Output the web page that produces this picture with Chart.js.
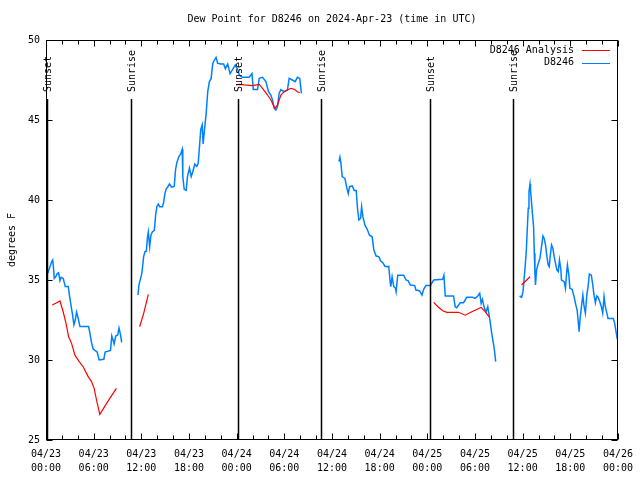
<!DOCTYPE html>
<html>
<head>
<title>Dew Point D8246</title>
<script src="https://cdn.jsdelivr.net/npm/chart.js"></script>
<style>body{margin:0;background:#fff}</style>
</head>
<body>
<canvas id="myChart" width="640" height="480"></canvas>
<script>
// hours since 04/23 00:00 UTC; null = gap in the record
const blueHours = [
  0.16,0.5,0.72,0.84,0.92,1.04,1.22,1.42,1.59,1.76,1.92,2.17,2.42,2.80,3.01,3.22,3.35,3.51,3.68,3.85,4.01,4.27,5.36,5.52,5.73,5.93,6.15,6.44,6.69,7.28,7.44,8.12,8.28,8.44,8.57,8.78,9.03,9.19,9.37,9.53,
  null,
  11.58,11.70,11.88,12.04,12.13,12.29,12.46,12.63,12.76,12.88,13.05,13.21,13.38,13.64,13.80,13.96,14.14,14.30,14.64,14.80,14.97,15.14,15.34,15.55,15.81,16.14,16.31,16.47,16.72,16.97,17.15,17.22,17.40,17.65,17.81,18.06,18.28,18.48,18.73,18.98,19.16,19.32,19.48,19.66,19.78,19.95,20.16,20.36,20.57,20.79,20.99,21.20,21.41,21.61,22.04,22.37,22.58,22.87,23.17,23.50,23.83,24.12,24.34,24.75,25.59,25.93,26.09,26.63,26.84,27.26,27.68,28.01,28.31,28.51,28.73,28.94,29.14,29.35,29.57,29.98,30.39,30.61,31.02,31.36,31.65,31.95,32.08,32.15,
  null,
  36.88,37.0,37.13,37.29,37.63,37.88,38.05,38.22,38.55,38.80,39.05,39.23,39.39,39.60,39.73,39.89,40.14,40.43,40.73,41.06,41.27,41.56,41.90,42.11,42.40,42.65,42.94,43.15,43.32,43.40,43.57,43.78,43.99,44.07,44.28,45.03,45.32,45.57,45.87,46.41,46.57,47.0,47.33,47.54,47.83,48.38,48.80,49.93,50.09,50.26,51.30,51.51,51.71,52.14,52.56,52.97,53.69,54.02,54.35,54.60,54.78,54.94,55.19,55.40,55.61,55.78,55.91,56.11,56.32,56.45,56.61,
  null,
  59.62,59.87,60.05,60.21,60.30,60.46,60.59,60.71,60.80,60.93,61.0,61.13,61.25,61.38,61.47,61.55,61.62,61.75,61.97,62.18,62.38,62.56,62.72,62.88,63.06,63.22,63.35,63.47,63.64,63.81,63.97,64.14,64.31,64.48,64.64,64.82,64.89,65.23,65.39,65.57,65.64,65.82,65.95,66.23,66.48,66.65,66.86,66.98,67.11,67.24,67.40,67.58,67.74,67.90,68.08,68.24,68.40,68.65,68.83,68.99,69.16,69.33,69.50,69.71,69.91,70.08,70.25,70.41,70.59,70.75,71.41,71.59,71.76,71.92
];
const blueTemps = [
  35.36,35.83,36.15,36.25,35.9,35.1,35.2,35.4,35.45,34.96,35.17,35.1,34.6,34.6,33.85,33.2,32.8,32.2,32.5,33.0,32.7,32.1,32.1,31.7,31.1,30.7,30.6,30.5,30.0,30.04,30.5,30.6,31.5,31.25,31.0,31.5,31.56,32.0,31.6,31.1,
  null,
  34.06,34.7,35.04,35.35,35.7,36.46,36.77,36.8,37.6,38.0,37.08,37.8,38.0,38.1,39.06,39.6,39.75,39.58,39.58,39.83,40.4,40.7,40.83,41.0,40.8,40.85,41.9,42.33,42.7,42.9,43.17,41.46,40.67,40.6,41.46,42.0,41.46,41.77,42.25,42.1,42.3,43.33,44.4,44.7,43.5,44.4,45.4,46.77,47.4,47.6,48.54,48.75,48.92,48.54,48.5,48.5,48.2,48.5,47.9,48.17,48.44,48.17,47.8,47.67,47.67,47.9,46.9,46.9,47.6,47.67,47.4,46.77,46.56,46.25,45.73,45.63,45.83,46.67,46.9,46.77,46.875,47.6,47.5,47.4,47.67,47.6,46.98,46.67,
  null,
  42.4,42.67,42.29,41.46,41.35,40.73,40.4,40.83,40.875,40.6,40.6,39.375,38.75,38.85,39.58,38.96,38.44,38.17,37.8,37.7,36.875,36.5,36.46,36.2,36.08,35.875,35.83,35.85,34.9,34.58,35.2,34.58,34.48,34.27,35.3,35.3,35.0,34.96,34.69,34.65,34.375,34.33,34.06,34.42,34.65,34.65,35.0,35.04,35.3,34.0,34.0,33.33,33.27,33.58,33.58,33.92,33.92,33.85,34.0,34.17,33.54,33.79,33.23,33.02,33.33,32.8,32.4,31.67,31.04,30.625,29.9,
  null,
  34.0,33.92,34.27,35.2,35.73,36.77,38.23,39.48,40.52,41.0,40.58,39.79,39.06,38.33,36.67,35.42,34.69,35.625,36.04,36.35,37.08,37.75,37.6,37.19,36.46,35.94,35.83,36.46,37.19,36.98,36.46,36.04,35.625,35.52,36.25,35.625,35.0,34.9,34.48,35.625,35.94,35.3,34.48,34.42,33.96,33.54,33.125,32.5,31.77,32.6,33.33,34.06,33.33,32.92,34.06,34.58,35.375,35.3,34.69,34.06,33.58,34.0,33.92,33.65,33.33,32.92,33.96,33.33,32.96,32.6,32.6,32.29,31.77,31.29
];
const redHours = [
  0.79,1.34,1.76,2.17,2.51,2.85,3.22,3.64,4.18,4.68,5.31,5.73,6.06,6.36,6.77,7.40,8.03,8.87,
  null,
  11.79,12.29,12.88,
  null,
  23.92,24.34,24.96,26.0,26.84,27.26,27.89,28.31,28.81,29.14,29.57,29.98,30.39,30.82,31.24,31.65,31.95,
  null,
  48.80,49.34,49.93,50.47,51.93,52.77,53.60,54.78,55.28,55.78,
  null,
  59.87,60.93
];
const redTemps = [
  33.44,33.58,33.69,33.0,32.3,31.45,31.04,30.3,29.9,29.58,28.96,28.65,28.23,27.5,26.6,27.1,27.6,28.23,
  null,
  32.08,32.9,34.1,
  null,
  47.2,47.23,47.19,47.15,47.23,46.98,46.56,46.25,45.73,45.94,46.56,46.77,46.875,46.98,46.92,46.77,46.7,
  null,
  33.6,33.33,33.08,32.98,32.98,32.8,33.02,33.29,33.02,32.7,
  null,
  34.69,35.2
];
const eventHours = [0.1, 10.7, 24.2, 34.65, 48.3, 58.75];
const eventNames = ['Sunset', 'Sunrise', 'Sunset', 'Sunrise', 'Sunset', 'Sunrise'];
const xTickLabels = [
  ['04/23','00:00'], ['04/23','06:00'], ['04/23','12:00'], ['04/23','18:00'],
  ['04/24','00:00'], ['04/24','06:00'], ['04/24','12:00'], ['04/24','18:00'],
  ['04/25','00:00'], ['04/25','06:00'], ['04/25','12:00'], ['04/25','18:00'],
  ['04/26','00:00']
];
const yTicks = [25, 30, 35, 40, 45, 50];

const MONO = '"DejaVu Sans Mono", "Liberation Mono", monospace';

function toPoints(hours, temps) {
  return hours.map((h, i) => ({ x: h === null ? hours[i - 1] : h, y: temps[i] }));
}

const overlay = {
  id: 'overlay',
  afterDraw(chart) {
    const { ctx, chartArea: a, scales: { x, y } } = chart;
    ctx.save();
    ctx.strokeStyle = '#000';
    ctx.fillStyle = '#000';
    ctx.font = '10px ' + MONO;

    // sunrise / sunset markers
    ctx.lineWidth = 1.5;
    eventHours.forEach((h, i) => {
      const px = Math.round(x.getPixelForValue(h)) + 0.5;
      ctx.beginPath();
      ctx.moveTo(px, a.top + 59);
      ctx.lineTo(px, a.bottom);
      ctx.stroke();
      ctx.save();
      ctx.translate(px + 1, a.top + 52);
      ctx.rotate(-Math.PI / 2);
      ctx.textAlign = 'left';
      ctx.textBaseline = 'middle';
      ctx.fillText(eventNames[i], 0, 0);
      ctx.restore();
    });

    // border
    ctx.lineWidth = 1;
    const L = Math.round(a.left) + 0.5, R = Math.round(a.right) - 0.5;
    const T = Math.round(a.top) + 0.5, B = Math.round(a.bottom) - 0.5;
    ctx.strokeRect(L, T, R - L, B - T);

    // inward ticks on all four sides
    ctx.beginPath();
    for (let h = 0; h <= 72; h += 2) {
      const px = Math.round(x.getPixelForValue(h)) + 0.5;
      const len = h % 6 === 0 ? 6 : 4;
      ctx.moveTo(px, B); ctx.lineTo(px, B - len);
      ctx.moveTo(px, T); ctx.lineTo(px, T + len);
    }
    yTicks.forEach(v => {
      const py = Math.round(y.getPixelForValue(v)) + 0.5;
      ctx.moveTo(L, py); ctx.lineTo(L + 6, py);
      ctx.moveTo(R, py); ctx.lineTo(R - 6, py);
    });
    ctx.stroke();

    // title
    ctx.textAlign = 'center';
    ctx.textBaseline = 'middle';
    ctx.fillText('Dew Point for D8246 on 2024-Apr-23 (time in UTC)', (a.left + a.right) / 2, 19);

    // y axis title
    ctx.save();
    ctx.translate(12, (a.top + a.bottom) / 2);
    ctx.rotate(-Math.PI / 2);
    ctx.fillText('degrees F', 0, 0);
    ctx.restore();

    // legend
    ctx.textAlign = 'right';
    chart.data.datasets.forEach((ds, i) => {
      const ly = 50 + i * 12.5;
      ctx.fillStyle = '#000';
      ctx.fillText(ds.label, 574, ly);
      ctx.strokeStyle = ds.borderColor;
      ctx.lineWidth = 1;
      ctx.beginPath();
      ctx.moveTo(582, Math.round(ly) + 0.5);
      ctx.lineTo(610, Math.round(ly) + 0.5);
      ctx.stroke();
    });
    ctx.restore();
  }
};

new Chart(document.getElementById('myChart'), {
  type: 'line',
  data: {
    datasets: [
      {
        label: 'D8246 Analysis',
        data: toPoints(redHours, redTemps),
        borderColor: '#ff0000',
        borderWidth: 1.2,
        pointRadius: 0,
        spanGaps: false,
        tension: 0
      },
      {
        label: 'D8246',
        data: toPoints(blueHours, blueTemps),
        borderColor: '#0080ff',
        borderWidth: 1.5,
        pointRadius: 0,
        spanGaps: false,
        tension: 0
      }
    ]
  },
  options: {
    responsive: false,
    animation: false,
    devicePixelRatio: 1,
    layout: { padding: { top: 40, right: 20, left: 0, bottom: 0 } },
    plugins: { legend: { display: false }, title: { display: false }, tooltip: { enabled: false } },
    scales: {
      x: {
        type: 'linear',
        min: 0,
        max: 72,
        afterFit: s => { s.height = 40; },
        afterBuildTicks: s => { s.ticks = xTickLabels.map((_, i) => ({ value: i * 6 })); },
        grid: { display: false, drawTicks: false },
        border: { display: false },
        ticks: {
          autoSkip: false,
          maxRotation: 0,
          padding: 7,
          color: '#000',
          font: { family: MONO, size: 10, lineHeight: 1.4 },
          callback: (v, i) => xTickLabels[i]
        }
      },
      y: {
        min: 25,
        max: 50,
        afterFit: s => { s.width = 46; },
        afterBuildTicks: s => { s.ticks = yTicks.map(v => ({ value: v })); },
        grid: { display: false, drawTicks: false },
        border: { display: false },
        ticks: {
          padding: 6,
          color: '#000',
          font: { family: MONO, size: 10 }
        }
      }
    }
  },
  plugins: [overlay]
});
</script>
</body>
</html>
